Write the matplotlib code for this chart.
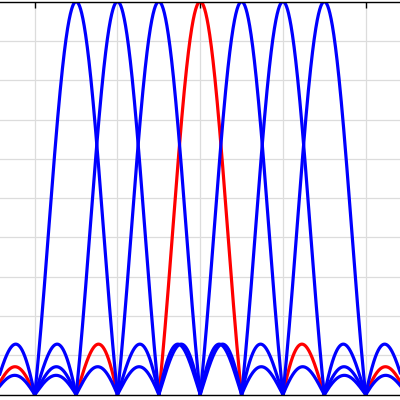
import numpy as np
import matplotlib
matplotlib.use("Agg")
import matplotlib.pyplot as plt

# subcarrier centres (in units of subcarrier spacing), the one in red is highlighted
centres = [-3, -2, -1, 0, 1, 2, 3]
highlight = 0

x_lim = (-4.84, 4.83)
y_lim = (0, 1)
x_grid = [-4, -2, 0, 2, 4]
x_ticks = [-4, 0, 4]
y_grid = [i / 10 for i in range(11)]

f = np.linspace(-6, 6, 2401)

fig = plt.figure(figsize=(4, 4), dpi=100)
ax = fig.add_axes([0, 0.0135, 1, 0.9825])

for xv in x_grid:
    ax.axvline(xv, color="#dcdcdc", lw=0.9, zorder=0)
for yv in y_grid:
    ax.axhline(yv, color="#dcdcdc", lw=0.9, zorder=0)

# red one first, blue ones are drawn over it
ax.plot(f, np.sinc(f - highlight), color="red", lw=2.3)
for c in centres:
    if c == highlight:
        continue
    ax.plot(f, np.sinc(f - c), color="blue", lw=2.3)

ax.set_xlim(*x_lim)
ax.set_ylim(*y_lim)

ax.spines["left"].set_visible(False)
ax.spines["right"].set_visible(False)
ax.spines["top"].set_linewidth(1.0)
ax.spines["bottom"].set_linewidth(1.0)

ax.set_xticks(x_ticks)
ax.set_yticks([])
ax.tick_params(axis="x", direction="in", top=True, bottom=False,
               labeltop=False, labelbottom=False, length=4, width=1)

fig.savefig("out.png", dpi=100)
